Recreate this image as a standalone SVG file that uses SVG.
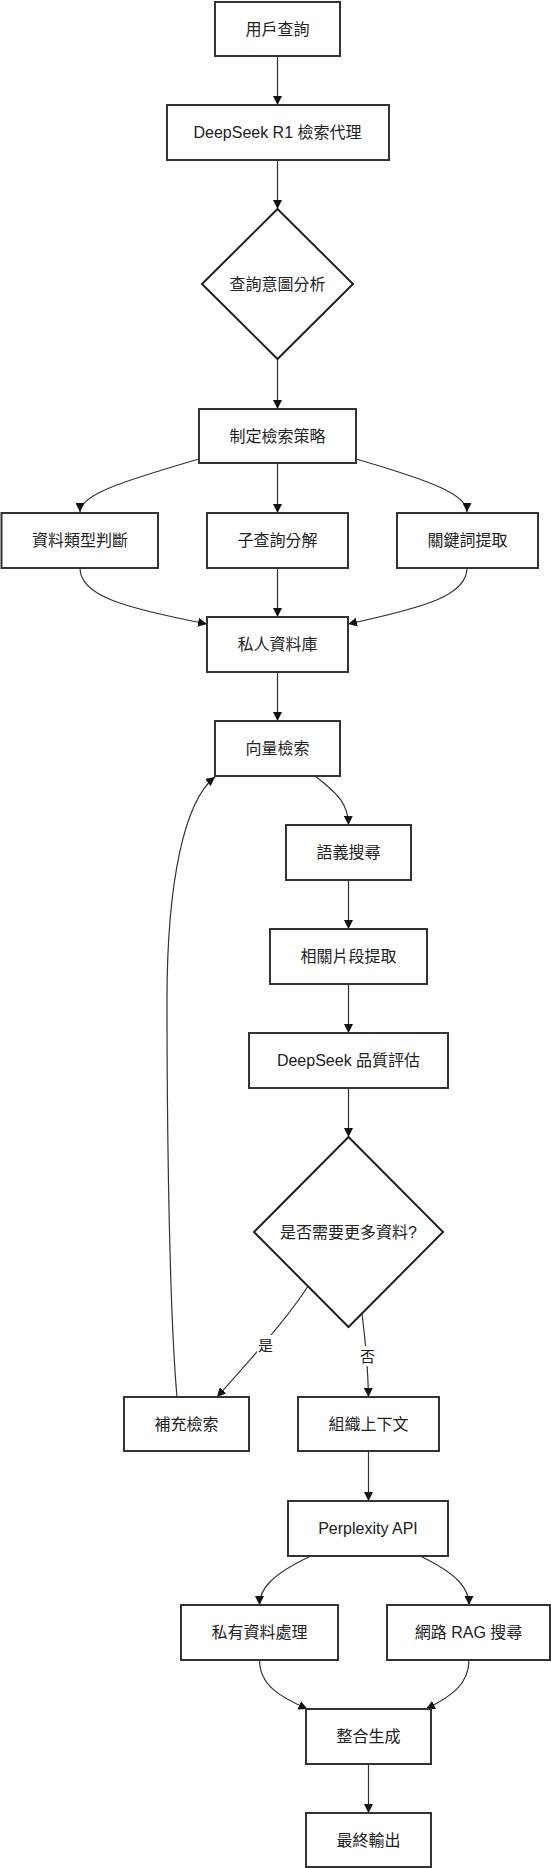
<svg xmlns="http://www.w3.org/2000/svg" width="551" height="1868" viewBox="0 0 551 1868">
<style>
  .box{fill:#fff;stroke:#333;stroke-width:2}
  .dia{fill:#fff;stroke:#222;stroke-width:2}
  .t{font-family:"Liberation Sans","Noto Sans CJK TC",Arial,sans-serif;font-size:16px;fill:#222;text-anchor:middle;dominant-baseline:central}
  .lt{font-family:"Liberation Sans","Noto Sans CJK TC",Arial,sans-serif;font-size:15px;fill:#222;text-anchor:middle;dominant-baseline:central}
  .e{fill:none;stroke:#333;stroke-width:1.2;marker-end:url(#arr)}
  .e2{fill:none;stroke:#333;stroke-width:1.2}
  .lb{fill:#fff}
</style>
<defs>
  <marker id="arr" viewBox="0 0 10 10" refX="10" refY="5" markerUnits="userSpaceOnUse" markerWidth="9" markerHeight="9" orient="auto">
    <path d="M0,0 L10,5 L0,10 z" fill="#111"/>
  </marker>
</defs>
<rect width="551" height="1868" fill="#fff"/>
<g id="connectors">
  <path class="e" d="M277.5,56 L277.5,105"/>
  <path class="e" d="M277.5,160 L277.5,209"/>
  <path class="e" d="M277.5,359 L277.5,409"/>
  <path class="e" d="M199,459 C120,482 80,495 80,512"/>
  <path class="e" d="M277.5,463 L277.5,513"/>
  <path class="e" d="M356,459 C435,482 467,495 467,512"/>
  <path class="e" d="M80,568 C80,595 120,607 207,624"/>
  <path class="e" d="M277.5,568 L277.5,617"/>
  <path class="e" d="M467,568 C467,595 427,607 348,624"/>
  <path class="e" d="M277.5,672 L277.5,721"/>
  <path class="e" d="M315,776 C340,795 348,805 348.5,825"/>
  <path class="e" d="M348.5,880 L348.5,929"/>
  <path class="e" d="M348.5,984 L348.5,1033"/>
  <path class="e" d="M348.5,1088 L348.5,1137"/>
  <path class="e" d="M308,1286 C290,1315 255,1355 217,1397"/>
  <path class="e" d="M362,1314 C366,1345 368,1370 368.5,1397"/>
  <path class="e" d="M177,1397 C170,1320 167,1150 167,1000 C167,880 185,800 215,777"/>
  <path class="e" d="M368.5,1451 L368.5,1501"/>
  <path class="e" d="M311,1556 C270,1575 259.5,1590 259.5,1605"/>
  <path class="e" d="M420,1556 C460,1575 469,1590 469,1605"/>
  <path class="e" d="M259.5,1660 C259.5,1685 280,1697 307.5,1709"/>
  <path class="e" d="M469,1660 C469,1685 450,1697 426,1709"/>
  <path class="e" d="M368.5,1764 L368.5,1813"/>
  <g id="label-yes">
    <rect class="lb" x="257" y="1335" width="17" height="20"/>
    <text class="lt" x="265.5" y="1345">是</text>
  </g>
  <g id="label-no">
    <rect class="lb" x="359" y="1346" width="17" height="20"/>
    <text class="lt" x="367.5" y="1356">否</text>
  </g>
</g>
<g id="n1"><rect class="box" x="215" y="2" width="125" height="54"/><text class="t" x="277.5" y="29">用戶查詢</text></g>
<g id="n2"><rect class="box" x="167" y="105" width="222" height="55"/><text class="t" x="277.5" y="132.5">DeepSeek R1 檢索代理</text></g>
<g id="n3"><polygon class="dia" points="277.5,209 353,284 277.5,359 202,284"/><text class="t" x="277.5" y="284">查詢意圖分析</text></g>
<g id="n4"><rect class="box" x="199" y="409" width="157" height="54"/><text class="t" x="277.5" y="436">制定檢索策略</text></g>
<g id="n5"><rect class="box" x="1.5" y="513" width="156.5" height="55"/><text class="t" x="80" y="540.5">資料類型判斷</text></g>
<g id="n6"><rect class="box" x="207" y="513" width="141" height="55"/><text class="t" x="277.5" y="540.5">子查詢分解</text></g>
<g id="n7"><rect class="box" x="397" y="513" width="141" height="55"/><text class="t" x="467.5" y="540.5">關鍵詞提取</text></g>
<g id="n8"><rect class="box" x="207" y="617" width="141" height="55"/><text class="t" x="277.5" y="644.5">私人資料庫</text></g>
<g id="n9"><rect class="box" x="215" y="721" width="125" height="55"/><text class="t" x="277.5" y="748.5">向量檢索</text></g>
<g id="n10"><rect class="box" x="286" y="825" width="125" height="55"/><text class="t" x="348.5" y="852.5">語義搜尋</text></g>
<g id="n11"><rect class="box" x="270" y="929" width="157" height="55"/><text class="t" x="348.5" y="956.5">相關片段提取</text></g>
<g id="n12"><rect class="box" x="249" y="1033" width="199" height="55"/><text class="t" x="348.5" y="1060.5">DeepSeek 品質評估</text></g>
<g id="n13"><polygon class="dia" points="348.5,1137 443,1232 348.5,1327 254,1232"/><text class="t" x="348.5" y="1232">是否需要更多資料?</text></g>
<g id="n14"><rect class="box" x="124" y="1397" width="125" height="54"/><text class="t" x="186.5" y="1424">補充檢索</text></g>
<g id="n15"><rect class="box" x="298" y="1397" width="141" height="54"/><text class="t" x="368.5" y="1424">組織上下文</text></g>
<g id="n16"><rect class="box" x="288" y="1501" width="160" height="55"/><text class="t" x="368" y="1528.5">Perplexity API</text></g>
<g id="n17"><rect class="box" x="181" y="1605" width="157" height="55"/><text class="t" x="259.5" y="1632.5">私有資料處理</text></g>
<g id="n18"><rect class="box" x="387" y="1605" width="163" height="55"/><text class="t" x="468.5" y="1632.5">網路 RAG 搜尋</text></g>
<g id="n19"><rect class="box" x="306" y="1709" width="125" height="55"/><text class="t" x="368.5" y="1736.5">整合生成</text></g>
<g id="n20"><rect class="box" x="306" y="1813" width="125" height="54"/><text class="t" x="368.5" y="1840">最終輸出</text></g>
</svg>
